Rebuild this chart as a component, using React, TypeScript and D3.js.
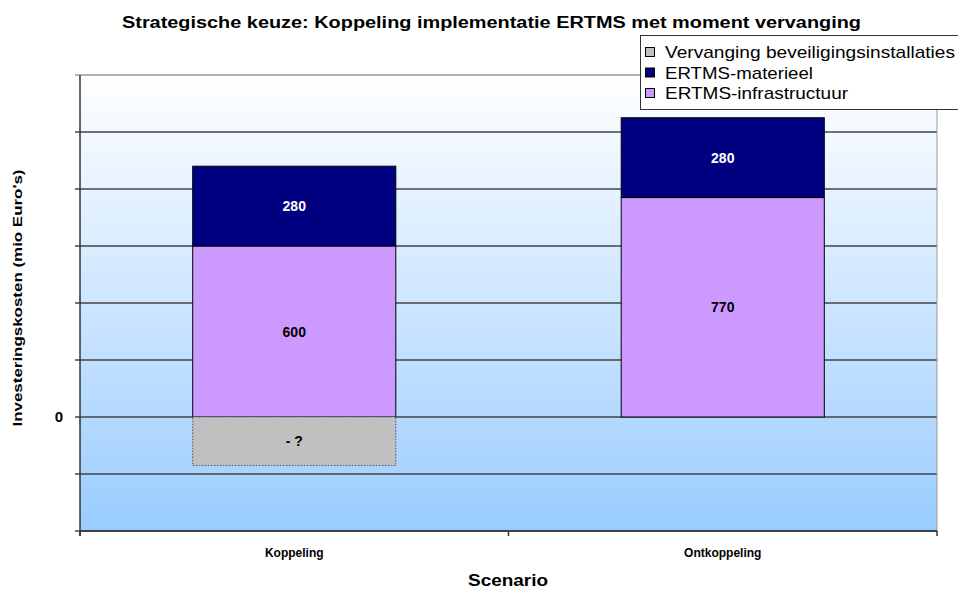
import React from "react";
import * as d3 from "d3";

const categories = ["Koppeling", "Ontkoppeling"];
const infrastructuur = [600, 770];
const materieel = [280, 280];
const vervanging = [-170, 0];
const vervangingLabels = ["- ?", ""];
const yTicks = [-400, -200, 0, 200, 400, 600, 800, 1000, 1200];
const seriesNames = ["Vervanging beveiligingsinstallaties", "ERTMS-materieel", "ERTMS-infrastructuur"];
const seriesKeys = ["verv", "mat", "infra"];

const W = 958, H = 589;
const plot = { l: 80, r: 937, t: 75, b: 531 };

export default function App() {
  const x = d3.scaleBand<string>().domain(categories).range([plot.l, plot.r]).paddingInner(0.526).paddingOuter(0.263);
  const y = d3.scaleLinear().domain([-400, 1200]).range([plot.b, plot.t]);
  const rows = categories.map((c, i) => ({ cat: c, infra: infrastructuur[i], mat: materieel[i], verv: vervanging[i] }));
  const stack = d3.stack<any>().keys(["infra", "mat", "verv"]).offset(d3.stackOffsetDiverging);
  const series = stack(rows);
  const fills: Record<string, string> = { infra: "#cc99ff", mat: "#000080", verv: "#c0c0c0" };
  const labelFill: Record<string, string> = { infra: "#000", mat: "#fff", verv: "#000" };
  const bw = x.bandwidth();
  const font = "'Liberation Sans', Arial, sans-serif";
  const legendLens = [290, 148, 183];

  return (
    <svg width={W} height={H} style={{ position: "absolute", left: 0, top: 0, background: "#fff" }} fontFamily={font}>
      <defs>
        <linearGradient id="bg" x1="0" y1="0" x2="0" y2="1">
          <stop offset="0" stopColor="#ffffff" />
          <stop offset="0.75" stopColor="#b4d9ff" />
          <stop offset="1" stopColor="#99ccff" />
        </linearGradient>
      </defs>
      <rect x={0} y={0} width={W} height={H} fill="#fff" />
      <text x={122} y={28} fontWeight="bold" fontSize={16} textLength={739} lengthAdjust="spacingAndGlyphs">
        Strategische keuze: Koppeling implementatie ERTMS met moment vervanging
      </text>
      <rect x={plot.l} y={plot.t} width={plot.r - plot.l} height={plot.b - plot.t} fill="url(#bg)" />
      {yTicks.map((t) => (
        <line key={t} x1={plot.l - 5} x2={plot.r} y1={y(t)} y2={y(t)} stroke={t === 1200 ? "#999" : "#444"} strokeWidth={1.5} />
      ))}
      <line x1={plot.r} x2={plot.r} y1={plot.t} y2={plot.b} stroke="#999" strokeWidth={1} />
      {series.map((s) =>
        s.map((d, i) => {
          const key = s.key as string;
          const v = (d.data as any)[key];
          if (!v) return null;
          const x0 = x(categories[i])!;
          const y0 = y(Math.max(d[0], d[1]));
          const h = Math.abs(y(d[0]) - y(d[1]));
          const label = key === "verv" ? vervangingLabels[i] : String(v);
          return (
            <g key={key + i}>
              <rect x={x0} y={y0} width={bw} height={h} fill={fills[key]}
                stroke={key === "verv" ? "#555" : "#000"} strokeWidth={1}
                strokeDasharray={key === "verv" ? "1.5,1.5" : undefined} />
              <text x={x0 + bw / 2} y={y0 + h / 2 + 5} textAnchor="middle" fontWeight="bold" fontSize={14} fill={labelFill[key]}>
                {label}
              </text>
            </g>
          );
        })
      )}
      <line x1={plot.l} x2={plot.l} y1={plot.t} y2={plot.b + 5} stroke="#333" strokeWidth={1.5} />
      <line x1={plot.l} x2={plot.r} y1={plot.b} y2={plot.b} stroke="#333" strokeWidth={1.5} />
      {[plot.l, (plot.l + plot.r) / 2, plot.r].map((px) => (
        <line key={px} x1={px} x2={px} y1={plot.b} y2={plot.b + 5} stroke="#333" strokeWidth={1.5} />
      ))}
      <text x={59} y={y(0) + 5} textAnchor="middle" fontWeight="bold" fontSize={15}>0</text>
      {categories.map((c) => (
        <text key={c} x={x(c)! + bw / 2} y={557} textAnchor="middle" fontWeight="bold" fontSize={12}>{c}</text>
      ))}
      <text x={468} y={586} fontWeight="bold" fontSize={16} textLength={80} lengthAdjust="spacingAndGlyphs">Scenario</text>
      <text transform={`translate(22, 298) rotate(-90)`} textAnchor="middle" fontWeight="bold" fontSize={13}
        textLength={257} lengthAdjust="spacingAndGlyphs">
        Investeringskosten (mio Euro's)
      </text>
      <g>
        <rect x={640.5} y={35.5} width={330} height={74} fill="#fff" stroke="#333" strokeWidth={1} />
        {seriesNames.map((n, i) => {
          const key = seriesKeys[i];
          const yy = 52 + i * 20.5;
          return (
            <g key={n}>
              <rect x={645.5} y={yy - 4.5} width={9} height={9} fill={fills[key]} stroke="#000" strokeWidth={1} />
              <text x={665} y={yy + 6} fontSize={17} textLength={legendLens[i]} lengthAdjust="spacingAndGlyphs">{n}</text>
            </g>
          );
        })}
      </g>
    </svg>
  );
}
